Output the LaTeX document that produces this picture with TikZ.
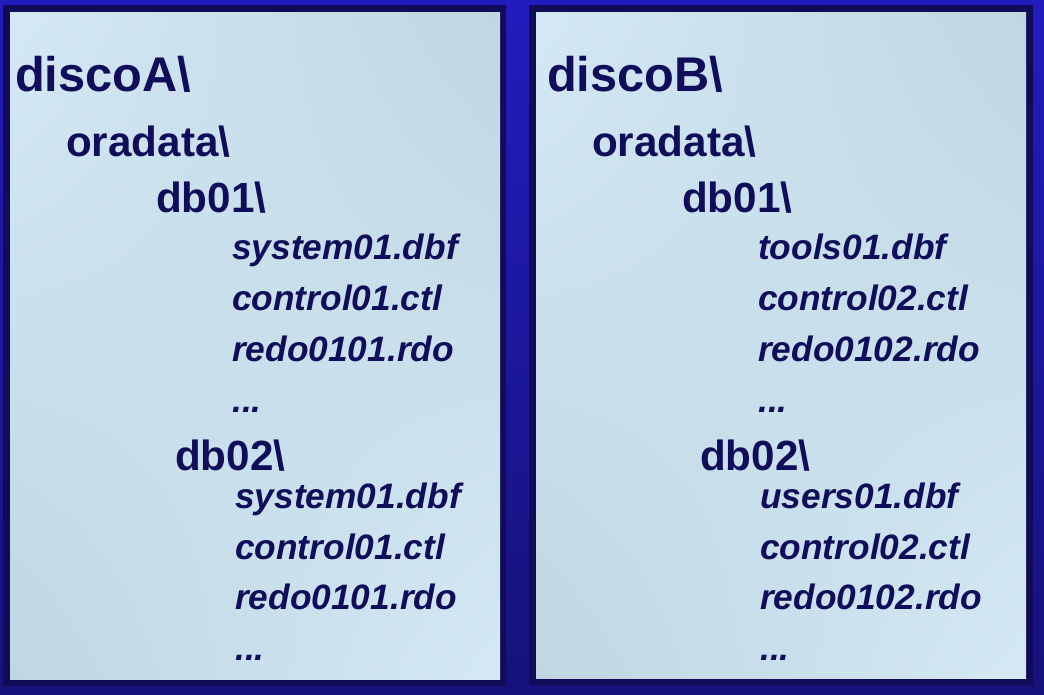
\documentclass[tikz,border=0pt]{standalone}
\usepackage{fontspec}
\usetikzlibrary{shadings}
\setmainfont{Liberation Sans}
\definecolor{bgtop}{RGB}{34,28,190}
\definecolor{bgbot}{RGB}{22,18,122}
\definecolor{frame}{RGB}{16,12,88}
\definecolor{panellight}{RGB}{212,232,246}
\definecolor{paneldark}{RGB}{192,214,226}
\definecolor{ink}{RGB}{16,14,90}
\tikzset{
  panel/.style={upper left=panellight, upper right=paneldark, lower left=paneldark, lower right=panellight},
  big/.style={anchor=base west, inner sep=0pt, text=ink, font=\fontsize{48.7}{50}\selectfont\bfseries},
  mid/.style={anchor=base west, inner sep=0pt, text=ink, font=\fontsize{42.2}{44}\selectfont\bfseries},
  file/.style={anchor=base west, inner sep=0pt, text=ink, font=\fontsize{35.3}{37}\selectfont\bfseries\itshape}
}
\begin{document}
\begin{tikzpicture}[x=1pt,y=-1pt]
\useasboundingbox (0,0) rectangle (1044,695);
\shade[top color=bgtop, bottom color=bgbot] (0,0) rectangle (1044,695);
% left panel
\fill[frame] (3,5) rectangle (506,686);
\shade[panel] (10,13) rectangle (500,679);
% right panel
\fill[frame] (529,5) rectangle (1033,685);
\shade[panel] (536,13) rectangle (1026,678);
% left texts
\node[big] (dA) at (15,92) {discoA\textbackslash};
\node[mid] (oA) at (66,157) {oradata\textbackslash};
\node[mid] (dA1) at (156,213) {db01\textbackslash};
\node[file] (a1) at (232,259) {system01.dbf};
\node[file] (a2) at (232,310) {control01.ctl};
\node[file] (a3) at (232,361) {redo0101.rdo};
\node[file] (a4) at (232,412) {...};
\node[mid] (dA2) at (175,470) {db02\textbackslash};
\node[file] (a5) at (235,508) {system01.dbf};
\node[file] (a6) at (235,559) {control01.ctl};
\node[file] (a7) at (235,609) {redo0101.rdo};
\node[file] (a8) at (235,660) {...};
% right texts
\node[big] (dB) at (547,92) {discoB\textbackslash};
\node[mid] (oB) at (592,157) {oradata\textbackslash};
\node[mid] (dB1) at (682,213) {db01\textbackslash};
\node[file] (b1) at (758,259) {tools01.dbf};
\node[file] (b2) at (758,310) {control02.ctl};
\node[file] (b3) at (758,361) {redo0102.rdo};
\node[file] (b4) at (758,412) {...};
\node[mid] (dB2) at (700,470) {db02\textbackslash};
\node[file] (b5) at (760,508) {users01.dbf};
\node[file] (b6) at (760,559) {control02.ctl};
\node[file] (b7) at (760,609) {redo0102.rdo};
\node[file] (b8) at (760,660) {...};
\end{tikzpicture}
\end{document}
